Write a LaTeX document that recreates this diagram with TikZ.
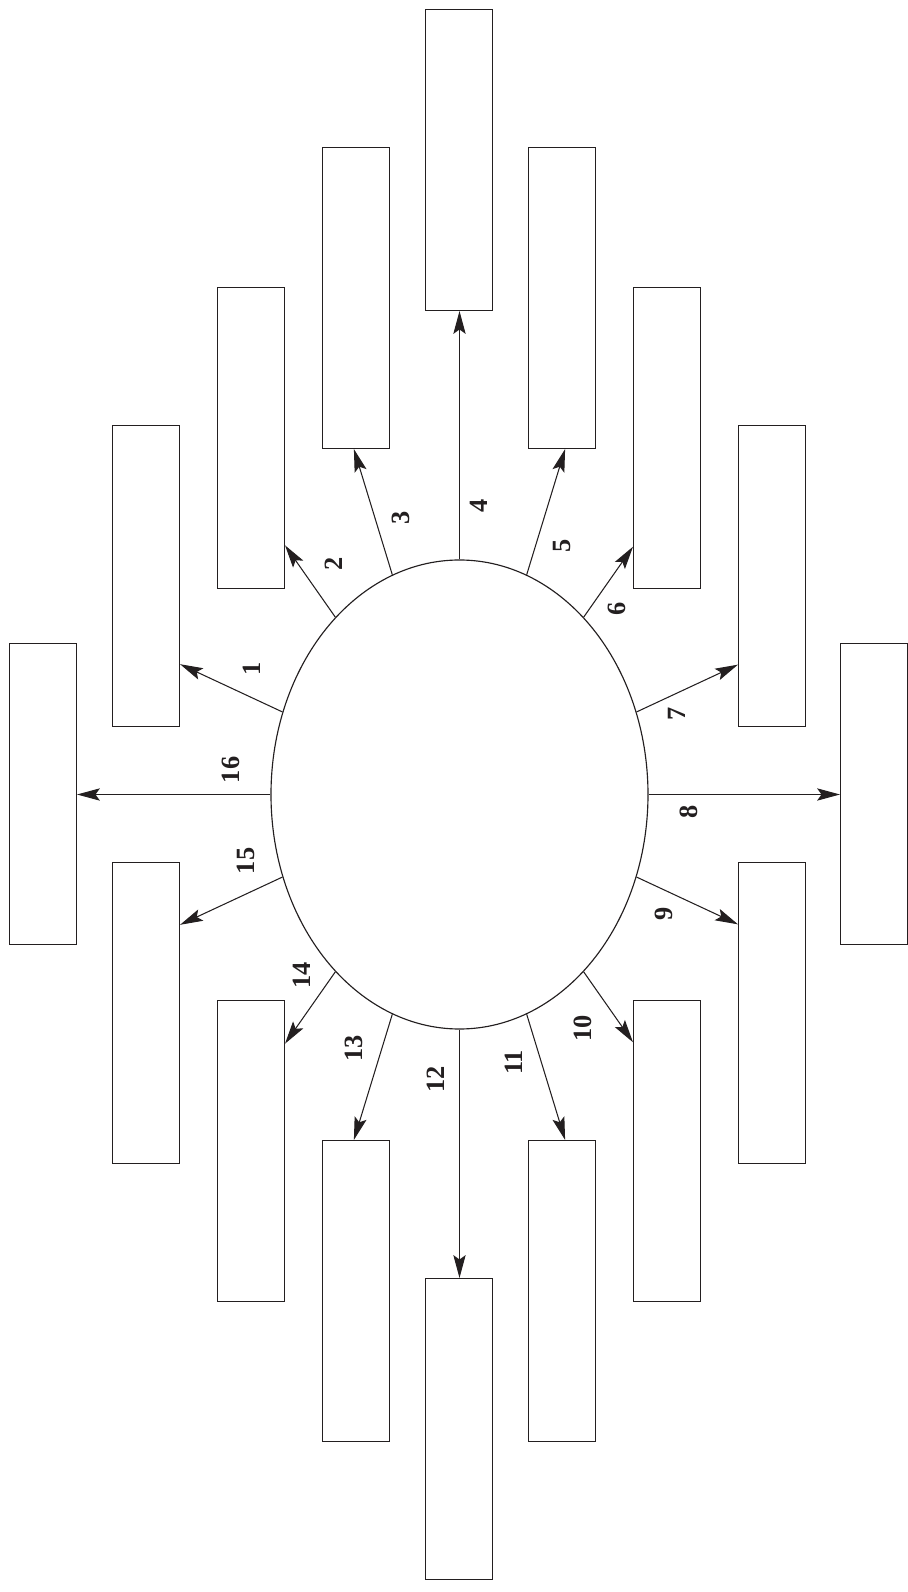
\documentclass[tikz,border=0pt]{standalone}
\usepackage{fontspec}
\setmainfont{Liberation Serif}
\usetikzlibrary{arrows.meta,shapes.geometric}
\definecolor{ink}{HTML}{231F20}

\begin{document}
\begin{tikzpicture}[
    box/.style={draw=ink, line width=0.6pt, minimum width=1.34cm, minimum height=6.02cm, inner sep=0pt},
    ell/.style={draw=ink, ellipse, line width=0.65pt, minimum width=7.54cm, minimum height=9.38cm, inner sep=0pt},
    arr/.style={-{Stealth[length=13pt, width=7pt, inset=2.5pt]}, draw=ink, line width=0.6pt},
    num/.style={rotate=90, inner sep=0pt, font=\fontsize{15}{15}\selectfont\bfseries, text=ink}
]
\useasboundingbox (-9.18,-15.95) rectangle (8.98,15.89);
\node[ell] (core) at (0.01,0) {};

\node[box] (b1) at (-6.26,4.37) {};
\node[box] (b2) at (-4.16,7.13) {};
\node[box] (b3) at (-2.06,9.93) {};
\node[box] (b4) at (0,12.69) {};
\node[box] (b5) at (2.06,9.93) {};
\node[box] (b6) at (4.16,7.13) {};
\node[box] (b7) at (6.26,4.37) {};
\node[box] (b8) at (8.30,0.01) {};
\node[box] (b9) at (6.26,-4.37) {};
\node[box] (b10) at (4.16,-7.13) {};
\node[box] (b11) at (2.06,-9.93) {};
\node[box] (b12) at (0,-12.69) {};
\node[box] (b13) at (-2.06,-9.93) {};
\node[box] (b14) at (-4.16,-7.13) {};
\node[box] (b15) at (-6.26,-4.37) {};
\node[box] (b16) at (-8.32,0.01) {};

\draw[arr] (core.155) -- (intersection of core.center--core.155 and b1.north east--b1.south east);
\draw[arr] (core.125) -- (intersection of core.center--core.125 and b2.north east--b2.south east);
\draw[arr] (core.107) -- (intersection of core.center--core.107 and b3.south west--b3.south east);
\draw[arr] (core.north) -- (core.north |- b4.south);
\draw[arr] (core.73) -- (intersection of core.center--core.73 and b5.south west--b5.south east);
\draw[arr] (core.55) -- (intersection of core.center--core.55 and b6.north west--b6.south west);
\draw[arr] (core.25) -- (intersection of core.center--core.25 and b7.north west--b7.south west);
\draw[arr] (core.east) -- (core.east -| b8.west);
\draw[arr] (core.-25) -- (intersection of core.center--core.-25 and b9.north west--b9.south west);
\draw[arr] (core.-55) -- (intersection of core.center--core.-55 and b10.north west--b10.south west);
\draw[arr] (core.-73) -- (intersection of core.center--core.-73 and b11.north west--b11.north east);
\draw[arr] (core.south) -- (core.south |- b12.north);
\draw[arr] (core.-107) -- (intersection of core.center--core.-107 and b13.north west--b13.north east);
\draw[arr] (core.-125) -- (intersection of core.center--core.-125 and b14.north east--b14.south east);
\draw[arr] (core.-155) -- (intersection of core.center--core.-155 and b15.north east--b15.south east);
\draw[arr] (core.west) -- (core.west -| b16.east);

\node[num] (n1) at (-4.15,2.51) {1};
\node[num] (n2) at (-2.50,4.61) {2};
\node[num] (n3) at (-1.16,5.54) {3};
\node[num] (n4) at (0.40,5.78) {4};
\node[num] (n5) at (2.05,4.97) {5};
\node[num] (n6) at (3.16,3.71) {6};
\node[num] (n7) at (4.36,1.61) {7};
\node[num] (n8) at (4.60,-0.34) {8};
\node[num] (n9) at (4.10,-2.39) {9};
\node[num] (n10) at (2.47,-4.68) {10};
\node[num] (n11) at (1.10,-5.36) {11};
\node[num] (n12) at (-0.46,-5.69) {12};
\node[num] (n13) at (-2.10,-5.07) {13};
\node[num] (n14) at (-3.15,-3.62) {14};
\node[num] (n15) at (-4.27,-1.33) {15};
\node[num] (n16) at (-4.56,0.49) {16};
\end{tikzpicture}
\end{document}
